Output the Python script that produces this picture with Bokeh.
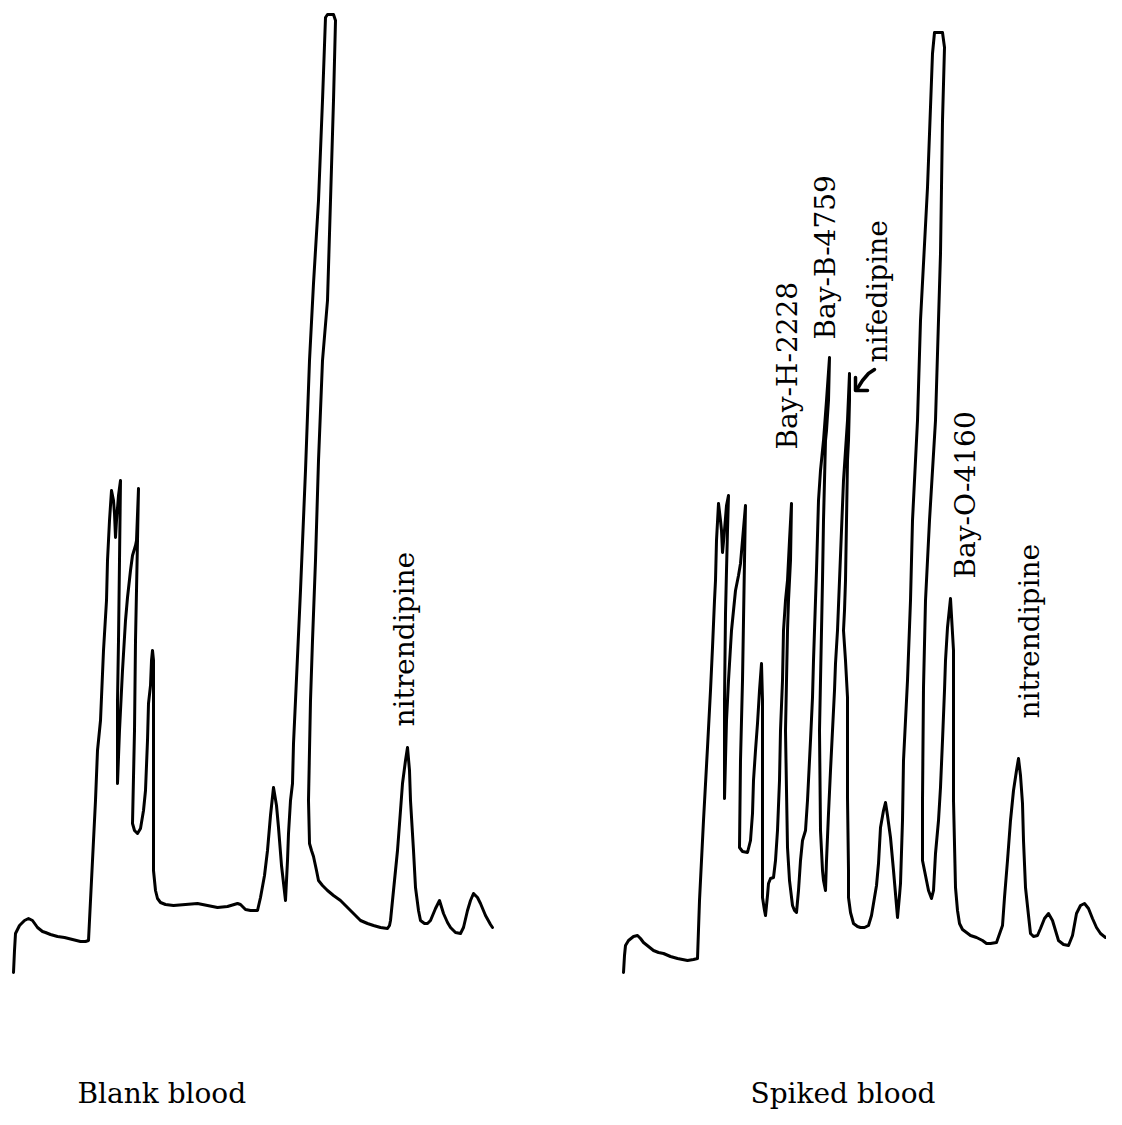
import math
from bokeh.plotting import figure
from bokeh.models import Range1d
from bokeh.core.properties import value
from bokeh.embed import file_html
from bokeh.resources import INLINE

# ---- Chromatogram traces (retention position, detector position) ----
blank_t = [13, 14, 15, 19, 24, 28, 32, 37, 42, 45, 50, 57, 64, 72, 80, 85, 88,
           90, 92, 95, 97, 100, 103, 106, 107, 109, 111,
           113, 114, 115, 116, 118, 120,
           119, 118, 117, 117,
           119, 122, 125, 127, 130, 132, 135, 136, 138,
           137, 135, 134, 132, 134, 137, 140, 143, 145, 147, 148, 150, 151, 152,
           153, 153, 153, 155, 157, 160, 165, 173, 185, 197, 207, 217, 227, 237, 240, 245, 250, 257,
           260, 264, 267, 270, 273, 276, 278, 281, 285,
           287, 288, 290, 292, 293, 295, 300, 305, 309, 313, 318, 322, 325, 327, 333, 335,
           334, 333, 330, 327, 322, 318, 315, 312, 310, 308, 309, 311, 313, 316, 318, 322, 327, 333,
           340, 347, 353, 360, 367, 373, 380, 387, 389, 390, 393, 397, 400, 402, 405, 407,
           409, 410, 413, 415, 418, 420, 424, 427, 430, 435, 439, 443, 447, 450, 455, 460,
           463, 467, 470, 473, 477, 480, 485, 490, 492]
blank_s = [972, 950, 933, 925, 920, 918, 920, 927, 931, 932, 934, 936, 937, 939, 941, 941, 940,
           900, 860, 800, 750, 720, 650, 600, 560, 520, 490,
           500, 513, 537, 520, 495, 480,
           560, 640, 700, 783,
           730, 670, 620, 597, 570, 555, 545, 540, 488,
           540, 640, 730, 823, 830, 833, 828, 810, 790, 740, 703, 685, 660, 650,
           660, 750, 870, 890, 898, 902, 904, 905, 904, 903, 905, 907, 906, 903, 904, 909, 910, 910,
           897, 875, 850, 815, 787, 805, 827, 865, 900,
           860, 833, 800, 783, 743, 700, 590, 470, 360, 283, 200, 100, 17, 14, 14, 20,
           60, 100, 200, 300, 360, 460, 560, 640, 700, 800, 843, 850, 856, 870, 880, 885, 890, 895,
           900, 907, 913, 920, 923, 925, 927, 928, 925, 920, 890, 850, 810, 783, 760, 747,
           770, 800, 850, 887, 910, 920, 923, 923, 920, 908, 900, 913, 922, 927, 932, 933,
           927, 910, 900, 893, 897, 903, 915, 924, 927]

spiked_t = [623, 624, 625, 628, 633, 637, 640, 643, 648, 653, 658, 663, 670, 677, 687, 693, 697,
            699, 700, 703, 707, 710, 712, 714, 715, 716, 718,
            720, 721, 722, 724, 726, 728,
            727, 726, 725, 724, 724,
            726, 728, 731, 735, 738, 740, 742, 745,
            744, 743, 742, 740, 739, 742, 747, 750, 752, 753, 755, 757, 759, 761,
            762, 762, 762, 762, 764, 765, 767, 768, 770, 773, 775, 777, 779, 780, 782, 783, 785, 787, 789, 791,
            790, 788, 787, 786, 785, 786, 787, 789, 792, 794, 796, 798, 800, 802, 805, 807, 808, 810,
            812, 813, 814, 816, 818, 820, 823, 826, 829,
            828, 826, 825, 823, 822, 821, 819, 820, 822, 823, 825, 826, 828, 830, 832, 834, 835, 837,
            839, 841, 843, 845, 847, 849,
            849, 848, 847, 846, 845, 844, 843, 845, 847, 847, 847, 848, 848, 850, 853, 857, 860, 864,
            868, 871, 873, 876, 878, 880, 883, 885,
            887, 890, 893, 896, 897, 899, 900, 902, 903, 905, 907, 910, 912, 917, 920, 927, 932, 934,
            942, 944, 942, 940, 935, 929, 925, 923, 922, 922, 922, 925, 928, 931, 933,
            935, 938, 940, 942, 944, 945, 947, 950, 953,
            953, 953, 955, 957, 959, 962, 966, 970, 976, 982, 986, 990, 996, 1002,
            1004, 1007, 1010, 1013, 1016, 1018, 1020, 1022, 1023, 1025, 1028, 1030, 1033, 1037, 1040,
            1044, 1048, 1052, 1055, 1058, 1063, 1068, 1072, 1076, 1080, 1084, 1088, 1092, 1096, 1100,
            1105, 1110, 1116, 1122]
spiked_s = [972, 955, 945, 940, 936, 935, 938, 942, 946, 950, 952, 953, 956, 958, 960, 959, 958,
            900, 880, 820, 747, 690, 647, 600, 580, 540, 503,
            520, 530, 552, 530, 505, 495,
            530, 570, 613, 700, 798,
            720, 680, 630, 590, 575, 563, 540, 505,
            560, 620, 680, 760, 847, 851, 852, 840, 813, 780, 750, 723, 690, 663,
            700, 750, 830, 897, 910, 915, 895, 883, 878, 877, 860, 830, 780, 730, 680, 630, 600, 580, 540, 503,
            560, 600, 630, 680, 730, 790, 847, 880, 905, 910, 912, 890, 860, 840, 830, 800, 780, 740,
            697, 660, 630, 570, 500, 470, 440, 400, 357,
            400, 430, 440, 520, 580, 630, 730, 830, 870, 880, 890, 860, 813, 770, 730, 690, 663, 630,
            580, 530, 480, 450, 420, 373,
            400, 440, 460, 520, 580, 610, 630, 660, 697, 750, 797, 870, 897, 912, 923, 926, 927, 927,
            925, 915, 903, 885, 863, 827, 810, 802,
            815, 837, 870, 905, 917, 895, 883, 820, 760, 720, 680, 600, 520, 420, 320, 187, 53, 32,
            32, 47, 120, 253, 420, 520, 600, 687, 800, 850, 860, 875, 890, 898,
            890, 853, 820, 787, 740, 690, 660, 627, 598,
            650, 720, 800, 887, 910, 923, 929, 932, 935, 937, 940, 943, 943, 942,
            925, 897, 860, 820, 790, 770, 758, 775, 803, 840, 887, 915, 933, 936, 935,
            928, 918, 913, 920, 930, 940, 944, 945, 935, 913, 905, 903, 908, 918, 927,
            933, 937, 936, 933]

# ---- Peak labels (rotated) and panel captions ----
peak_labels = ["nitrendipine", "Bay-H-2228", "Bay-B-4759", "nifedipine", "Bay-O-4160", "nitrendipine"]
peak_label_x = [404, 787, 825, 877, 965, 1029]
peak_label_y = [726, 449, 339, 362, 578, 718]

captions = ["Blank blood", "Spiked blood"]
caption_x = [77, 750]
caption_y = [1093, 1093]

FONT = value("DejaVu Serif")

p = figure(width=1106, height=1109, output_backend="svg", toolbar_location=None,
           x_axis_type=None, y_axis_type=None,
           x_range=Range1d(0, 1106), y_range=Range1d(1109, 0),
           min_border=0, outline_line_color=None,
           background_fill_color="white", border_fill_color="white")
p.grid.visible = False

line_kw = dict(line_color="black", line_width=3, line_join="round", line_cap="round")
p.line(blank_t, blank_s, **line_kw)
p.line(spiked_t, spiked_s, **line_kw)

# arrow pointing at the nifedipine peak
p.multi_line([[874, 868, 862, 857], [855, 855, 867]], [[369, 373, 380, 388], [377, 390, 390]],
             line_color="black", line_width=3.5, line_cap="round", line_join="round")

p.text(x=peak_label_x, y=peak_label_y, text=peak_labels, angle=math.pi / 2,
       text_font=FONT, text_font_size="28px", text_color="black",
       text_align="left", text_baseline="alphabetic")

p.text(x=caption_x, y=caption_y, text=captions,
       text_font=FONT, text_font_size="28px", text_color="black",
       text_align="left", text_baseline="alphabetic")

open("out.html", "w").write(file_html(p, INLINE))
